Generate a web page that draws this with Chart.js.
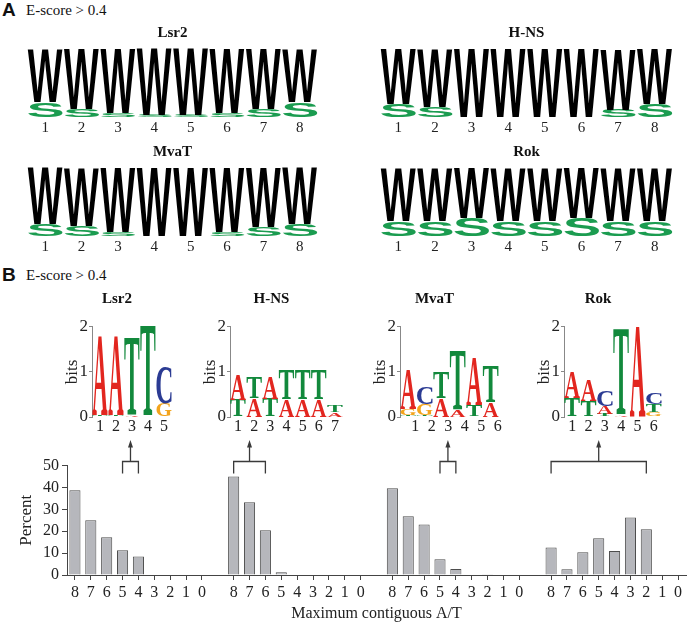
<!DOCTYPE html>
<html>
<head>
<meta charset="utf-8">
<script src="https://cdn.jsdelivr.net/npm/chart.js@4.4.1/dist/chart.umd.min.js"></script>
<style>
  body { margin: 0; background: #fff; }
  #page { position: relative; width: 687px; height: 623px; overflow: hidden; font-family: 'Liberation Serif', serif; color: #111; }
  .box { position: absolute; }
  .panel { position: absolute; font-family: 'Liberation Sans', Arial, sans-serif; font-weight: bold; font-size: 19px; line-height: 19px; }
  .note { position: absolute; font-size: 15px; line-height: 15px; }
</style>
</head>
<body>
<div id="page">
  <div class="panel" style="left:2px; top:0px">A</div>
  <div class="note" style="left:26px; top:3px">E-score &gt; 0.4</div>
  <div class="panel" style="left:2px; top:265px">B</div>
  <div class="note" style="left:26px; top:268px">E-score &gt; 0.4</div>

  <div class="box" style="left:18px; top:24px; width:300px; height:113px"><canvas id="aLsr2"></canvas></div>
  <div class="box" style="left:364px; top:24px; width:309px; height:113px"><canvas id="aHns"></canvas></div>
  <div class="box" style="left:10px; top:143px; width:308px; height:113px"><canvas id="aMvat"></canvas></div>
  <div class="box" style="left:363px; top:143px; width:310px; height:113px"><canvas id="aRok"></canvas></div>

  <div class="box" style="left:62px; top:290px; width:148px; height:145px"><canvas id="bLsr2"></canvas></div>
  <div class="box" style="left:200px; top:290px; width:180px; height:145px"><canvas id="bHns"></canvas></div>
  <div class="box" style="left:370px; top:290px; width:164px; height:145px"><canvas id="bMvat"></canvas></div>
  <div class="box" style="left:534px; top:290px; width:148px; height:145px"><canvas id="bRok"></canvas></div>

  <div class="box" style="left:0px; top:432px; width:687px; height:191px"><canvas id="contig"></canvas></div>
</div>
<script>
// ---- panel A: W / S share per position (S drawn below W)
const aPositions = ['1', '2', '3', '4', '5', '6', '7', '8'];
const lsr2S = [0.22, 0.12, 0.06, 0.03, 0.03, 0.06, 0.12, 0.22];
const lsr2W = [0.78, 0.88, 0.94, 0.97, 0.97, 0.94, 0.88, 0.78];
const hnsS = [0.19, 0.15, 0, 0, 0, 0, 0.11, 0.19];
const hnsW = [0.81, 0.85, 1, 1, 1, 1, 0.89, 0.81];
const mvatS = [0.18, 0.15, 0.06, 0, 0, 0.06, 0.13, 0.18];
const mvatW = [0.82, 0.85, 0.94, 1, 1, 0.94, 0.87, 0.82];
const rokS = [0.22, 0.22, 0.26, 0.22, 0.22, 0.26, 0.22, 0.22];
const rokW = [0.78, 0.78, 0.74, 0.78, 0.78, 0.74, 0.78, 0.78];

// ---- panel B: sequence logos, letters bottom -> top with heights in bits
const lsr2Letters = [['T', 'A'], ['T', 'A'], ['A', 'T'], ['A', 'T'], ['G', 'C']];
const lsr2Bits = [[0.04, 1.72], [0.04, 1.72], [0.05, 1.71], [0.02, 1.97], [0.28, 0.82]];
const hnsLetters = [['T', 'A'], ['A', 'T'], ['T', 'A'], ['A', 'T'], ['A', 'T'], ['A', 'T'], ['A', 'T']];
const hnsBits = [[0.38, 0.57], [0.42, 0.47], [0.4, 0.5], [0.39, 0.65], [0.39, 0.65], [0.39, 0.65], [0.1, 0.14]];
const mvatLetters = [['T', 'G', 'A'], ['T', 'G', 'C'], ['A', 'T'], ['A', 'T'], ['T', 'A'], ['A', 'T']];
const mvatBits = [[0.05, 0.13, 0.87], [0.03, 0.25, 0.37], [0.42, 0.58], [0.15, 1.29], [0.26, 1.06], [0.33, 0.8]];
const rokLetters = [['T', 'A'], ['T', 'A'], ['T', 'A', 'C'], ['A', 'T'], ['A'], ['G', 'T', 'C']];
const rokBits = [[0.41, 0.59], [0.36, 0.45], [0.06, 0.18, 0.34], [0.03, 1.9], [1.99], [0.1, 0.17, 0.25]];

// ---- bottom: percent of sites by maximum contiguous A/T
const contigLabels = ['8', '7', '6', '5', '4', '3', '2', '1', '0'];
const lsr2Pct = [38.7, 25.0, 17.2, 11.3, 8.5, 0, 0, 0, 0];
const hnsPct = [45.0, 33.2, 20.4, 1.2, 0, 0, 0, 0, 0];
const mvatPct = [39.6, 26.8, 23.1, 7.2, 2.7, 0, 0.3, 0, 0];
const rokPct = [12.6, 2.6, 10.4, 16.8, 11.0, 26.3, 20.9, 0, 0];
const percentTicks = [0, 10, 20, 30, 40, 50];
// bracket spans (logo motif length) per group
const bracketFrom = ['5', '8', '5', '8'];
const bracketTo = ['4', '6', '4', '2'];

const GLYPH_COLORS = { A: '#e2261f', T: '#12893c', C: '#2b3b93', G: '#f3a41c', W: '#000000', S: '#1b9c50' };
const SERIF = "'Liberation Serif', 'Times New Roman', serif";

function drawGlyph(ctx, ch, family, color, x, w, y, h) {
  ctx.save();
  ctx.font = 'bold 100px ' + family;
  const m = ctx.measureText(ch);
  const gw = m.actualBoundingBoxLeft + m.actualBoundingBoxRight;
  const gh = m.actualBoundingBoxAscent + m.actualBoundingBoxDescent;
  ctx.translate(x, y);
  ctx.scale(w / gw, h / gh);
  ctx.fillStyle = color;
  ctx.textAlign = 'left';
  ctx.textBaseline = 'alphabetic';
  ctx.fillText(ch, m.actualBoundingBoxLeft, m.actualBoundingBoxAscent);
  ctx.restore();
}

const glyphPlugin = {
  id: 'glyphs',
  afterDatasetsDraw(chart, args, opts) {
    const ctx = chart.ctx;
    chart.data.datasets.forEach((ds, di) => {
      const meta = chart.getDatasetMeta(di);
      meta.data.forEach((bar, i) => {
        const ch = ds.glyphs[i];
        if (!ch || !ds.data[i]) return;
        const top = Math.min(bar.y, bar.base);
        const h = Math.abs(bar.base - bar.y);
        if (h < 0.4) return;
        drawGlyph(ctx, ch, opts.family, GLYPH_COLORS[ch], bar.x - bar.width / 2, bar.width, top, h);
      });
    });
  }
};

function layers(letters, bits) {
  const depth = Math.max(...bits.map(b => b.length));
  const out = [];
  for (let k = 0; k < depth; k++) {
    out.push({
      data: bits.map(b => b[k] || 0),
      glyphs: letters.map(l => l[k] || null),
      backgroundColor: 'rgba(0,0,0,0)',
      borderWidth: 0,
      barPercentage: 0.96,
      categoryPercentage: 1
    });
  }
  return out;
}

// panel A logo (no y axis)
function wsLogo(id, title, sVals, wVals, padLeft) {
  const letters = aPositions.map(() => ['S', 'W']);
  const bits = sVals.map((s, i) => [s, wVals[i]]);
  new Chart(document.getElementById(id), {
    type: 'bar',
    data: { labels: aPositions, datasets: layers(letters, bits) },
    plugins: [glyphPlugin],
    options: {
      responsive: true,
      maintainAspectRatio: false,
      animation: false,
      layout: { padding: { left: padLeft, right: 0, top: 0, bottom: 0 } },
      plugins: {
        legend: { display: false },
        tooltip: { enabled: false },
        title: {
          display: true, text: title, color: '#111',
          font: { family: SERIF, size: 15, weight: 'bold' },
          padding: { top: 0, bottom: 7 }
        },
        glyphs: { family: "'Liberation Sans', Arial, sans-serif" }
      },
      scales: {
        x: {
          stacked: true,
          grid: { display: false, drawTicks: false },
          border: { display: false },
          ticks: { color: '#222', padding: 2, font: { family: SERIF, size: 15 } },
          afterFit: s => { s.height = 20; }
        },
        y: { stacked: true, display: false, min: 0, max: 1 }
      }
    }
  });
}

// panel B logo with bits axis
function bitsLogo(id, title, letters, bits, padRight, labelOffset) {
  new Chart(document.getElementById(id), {
    type: 'bar',
    data: { labels: letters.map((l, i) => String(i + 1)), datasets: layers(letters, bits) },
    plugins: [glyphPlugin],
    options: {
      responsive: true,
      maintainAspectRatio: false,
      animation: false,
      layout: { padding: { left: 0, right: padRight, top: 0, bottom: 0 } },
      plugins: {
        legend: { display: false },
        tooltip: { enabled: false },
        title: {
          display: true, text: title, color: '#111',
          font: { family: SERIF, size: 15, weight: 'bold' },
          padding: { top: 0, bottom: 18.7 }
        },
        glyphs: { family: SERIF }
      },
      scales: {
        x: {
          stacked: true,
          grid: { display: false, drawTicks: false },
          border: { display: false },
          ticks: { color: '#222', padding: 0, labelOffset: labelOffset, font: { family: SERIF, size: 16 } },
          afterFit: s => { s.height = 18; }
        },
        y: {
          stacked: true,
          min: 0, max: 2,
          ticks: { stepSize: 1, color: '#222', padding: 1, font: { family: SERIF, size: 17 } },
          grid: { drawOnChartArea: false, drawTicks: true, tickLength: 3, color: '#888' },
          border: { display: true, color: '#888' },
          title: { display: true, text: 'bits', color: '#222', padding: 0, font: { family: SERIF, size: 17 } },
          afterFit: s => { s.width = 30; }
        }
      }
    }
  });
}

wsLogo('aLsr2', 'Lsr2', lsr2S, lsr2W, 9);
wsLogo('aHns', 'H-NS', hnsS, hnsW, 16);
wsLogo('aMvat', 'MvaT', mvatS, mvatW, 17);
wsLogo('aRok', 'Rok', rokS, rokW, 17);

bitsLogo('bLsr2', 'Lsr2', lsr2Letters, lsr2Bits, 38, 0);
bitsLogo('bHns', 'H-NS', hnsLetters, hnsBits, 37, 0);
bitsLogo('bMvat', 'MvaT', mvatLetters, mvatBits, 35, 7);
bitsLogo('bRok', 'Rok', rokLetters, rokBits, 20, 0);

// ---- bar chart of contiguous A/T
const groupPct = [lsr2Pct, hnsPct, mvatPct, rokPct];
const barLabels = [];
const barValues = [];
groupPct.forEach((vals, g) => {
  if (g > 0) { barLabels.push(''); barValues.push(null); }
  contigLabels.forEach((lab, i) => { barLabels.push(lab); barValues.push(vals[i]); });
});
const groupSize = contigLabels.length + 1;

const bracketPlugin = {
  id: 'brackets',
  afterDraw(chart) {
    const ctx = chart.ctx;
    const xs = chart.scales.x;
    const top = chart.chartArea.top;
    ctx.save();
    ctx.strokeStyle = '#3a3a3a';
    ctx.fillStyle = '#3a3a3a';
    ctx.lineWidth = 1.3;
    bracketFrom.forEach((from, g) => {
      const x1 = xs.getPixelForValue(g * groupSize + contigLabels.indexOf(from));
      const x2 = xs.getPixelForValue(g * groupSize + contigLabels.indexOf(bracketTo[g]));
      const yb = top - 4;
      const xm = (x1 + x2) / 2;
      ctx.beginPath();
      ctx.moveTo(x1, top + 8);
      ctx.lineTo(x1, yb);
      ctx.lineTo(x2, yb);
      ctx.lineTo(x2, top + 8);
      ctx.moveTo(xm, yb);
      ctx.lineTo(xm, top - 20);
      ctx.stroke();
      ctx.beginPath();
      ctx.moveTo(xm, top - 25.5);
      ctx.lineTo(xm - 2.5, top - 18);
      ctx.lineTo(xm + 2.5, top - 18);
      ctx.closePath();
      ctx.fill();
    });
    ctx.restore();
  }
};

const tickColor = c => (c.tick && c.tick.label === '' ? 'rgba(0,0,0,0)' : '#444');

new Chart(document.getElementById('contig'), {
  type: 'bar',
  data: {
    labels: barLabels,
    datasets: [{
      data: barValues,
      backgroundColor: '#b6b7bc',
      borderColor: '#4d4d4d',
      borderWidth: 1,
      barPercentage: 0.7,
      categoryPercentage: 1
    }]
  },
  plugins: [bracketPlugin],
  options: {
    responsive: true,
    maintainAspectRatio: false,
    animation: false,
    layout: { padding: { left: 0, right: 1, top: 33.5, bottom: 0 } },
    plugins: { legend: { display: false }, tooltip: { enabled: false } },
    scales: {
      x: {
        offset: true,
        grid: { drawOnChartArea: false, offset: false, drawTicks: true, tickLength: 5, color: tickColor, tickColor: tickColor },
        border: { display: true, color: '#444' },
        ticks: { color: '#222', padding: 3, maxRotation: 0, autoSkip: false, font: { family: SERIF, size: 16 } },
        title: { display: true, text: 'Maximum contiguous A/T', color: '#222', padding: 0, font: { family: SERIF, size: 16 } },
        afterFit: s => { s.height = 48; }
      },
      y: {
        min: 0, max: 50,
        afterBuildTicks: s => { s.ticks = percentTicks.map(v => ({ value: v })); },
        grid: { drawOnChartArea: false, drawTicks: true, tickLength: 5, color: '#444' },
        border: { display: true, color: '#444' },
        ticks: { color: '#222', padding: 3, autoSkip: false, font: { family: SERIF, size: 16 } },
        title: { display: true, text: 'Percent', color: '#222', padding: { top: 16, bottom: 0 }, font: { family: SERIF, size: 17 } },
        afterFit: s => { s.width = 67; }
      }
    }
  }
});
</script>
</body>
</html>
